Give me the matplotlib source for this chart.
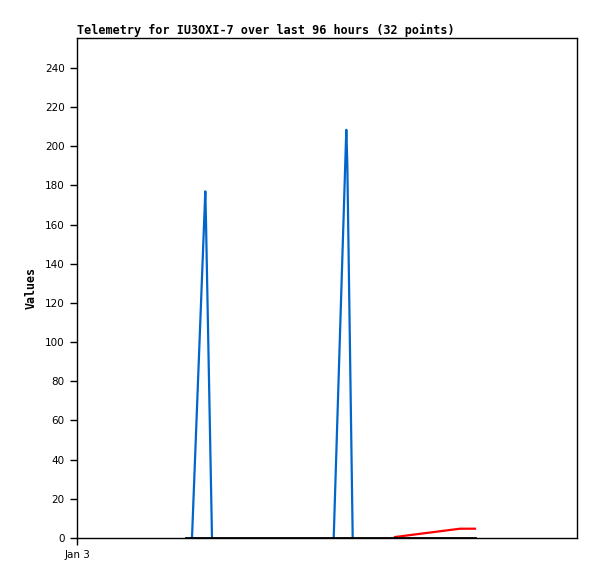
import numpy as np
from matplotlib import pyplot as plt

# hours since Jan 3 00:00
blue_t = [23.0, 25.66, 25.8, 27.0, 51.34, 53.86, 54.06, 55.14]
blue_v = [0.0, 177.0, 161.5, 0.0, 0.0, 208.4, 191.4, 0.0]
red_t = [63.6, 76.6, 79.6]
red_v = [0.5, 4.75, 4.75]
black_t = [21.8, 79.6]
black_v = [0.0, 0.0]

yticks = np.arange(0, 241, 20)
xticks = [0]
xlabels = ['Jan 3']

fig = plt.figure(figsize=(5.97, 5.79), dpi=100)
ax = fig.add_axes([77/597, 41/579, 500/597, 500/579])

ax.plot(blue_t[:4], blue_v[:4], color='#0066cc', linewidth=1.6)
ax.plot(blue_t[4:], blue_v[4:], color='#0066cc', linewidth=1.6)
ax.plot(red_t, red_v, color='#ff0000', linewidth=1.6)
ax.plot(black_t, black_v, color='black', linewidth=2)

ax.set_xlim(0, 100)
ax.set_ylim(0, 255.3)
ax.set_yticks(yticks)
ax.set_xticks(xticks)
ax.set_xticklabels(xlabels)
ax.tick_params(axis='both', direction='out', length=5, width=1, labelsize=7.5, pad=4)
for s in ax.spines.values():
    s.set_linewidth(1)

ax.set_ylabel('Values', fontsize=8.4, fontweight='bold', family='DejaVu Sans Mono', labelpad=5)
ax.set_title('Telemetry for IU3OXI-7 over last 96 hours (32 points)', fontsize=8.45,
             fontweight='bold', family='DejaVu Sans Mono', loc='left', pad=3)

plt.savefig('out.png', dpi=100)
